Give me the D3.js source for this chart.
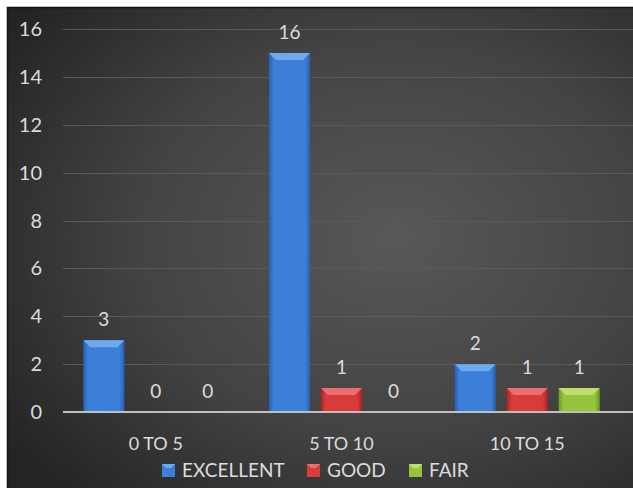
<!DOCTYPE html>
<html>
<head>
<meta charset="utf-8">
<title>Ratings by range</title>
<script src="https://cdn.jsdelivr.net/npm/d3@7"></script>
<style>
body { margin: 0; background: #fff; }
text { font-family: Lato, "Open Sans", sans-serif; fill: #dcdcdc; }
</style>
</head>
<body>
<div id="chart"></div>
<script>
// values
var categories = ["0 TO 5", "5 TO 10", "10 TO 15"];
var series = ["EXCELLENT", "GOOD", "FAIR"];
var excellent = [3, 15, 2];          // bar heights as drawn
var good = [0, 1, 1];
var fair = [0, 0, 1];
var excellentLabels = [3, 16, 2];    // data labels as printed
var yTicks = [0, 2, 4, 6, 8, 10, 12, 14, 16];

var width = 633, height = 488;

var colors = {
  "EXCELLENT": {main: "#3c7fd9", dark: "#2a5fae", top: "#6fa9ee"},
  "GOOD": {main: "#d93b3b", dark: "#a82424", top: "#ec6e6e"},
  "FAIR": {main: "#97c43d", dark: "#6f9a22", top: "#bddf6c"}
};

var rows = categories.map(function(c, i) {
  return {
    cat: c,
    vals: [
      {key: "EXCELLENT", v: excellent[i], label: excellentLabels[i]},
      {key: "GOOD", v: good[i], label: good[i]},
      {key: "FAIR", v: fair[i], label: fair[i]}
    ]
  };
});

var svg = d3.select("#chart").append("svg")
  .attr("width", width)
  .attr("height", height);

var defs = svg.append("defs");

var bg = defs.append("radialGradient").attr("id", "bg")
  .attr("cx", "62%").attr("cy", "48%").attr("r", "75%");
bg.append("stop").attr("offset", "0%").attr("stop-color", "#585858");
bg.append("stop").attr("offset", "55%").attr("stop-color", "#434343");
bg.append("stop").attr("offset", "100%").attr("stop-color", "#242424");

series.forEach(function(s) {
  var g = defs.append("linearGradient").attr("id", "grad-" + s)
    .attr("x1", "0%").attr("x2", "100%").attr("y1", "0%").attr("y2", "0%");
  g.append("stop").attr("offset", "0%").attr("stop-color", colors[s].dark);
  g.append("stop").attr("offset", "12%").attr("stop-color", colors[s].main);
  g.append("stop").attr("offset", "88%").attr("stop-color", colors[s].main);
  g.append("stop").attr("offset", "100%").attr("stop-color", colors[s].dark);
});

// chart area background + border (top and left visible)
svg.append("rect")
  .attr("x", 7).attr("y", 7)
  .attr("width", width - 7).attr("height", height - 7)
  .attr("fill", "url(#bg)");
svg.append("path")
  .attr("d", "M7.5," + height + "V7.5H" + width)
  .attr("fill", "none")
  .attr("stroke", "#111")
  .attr("stroke-width", 1.5);

var y = d3.scaleLinear().domain([0, 16]).range([412, 29]);

var x0 = d3.scaleBand().domain(categories)
  .range([63, 620])
  .paddingInner(0.17)
  .paddingOuter(0.085);

var x1 = d3.scaleBand().domain(series)
  .range([4.5, x0.bandwidth() - 4.5])
  .paddingInner(0.21)
  .paddingOuter(0);

// gridlines
svg.append("g")
  .selectAll("line")
  .data(yTicks.slice(1))
  .enter().append("line")
  .attr("x1", 63).attr("x2", width)
  .attr("y1", function(d) { return Math.round(y(d)) + 0.5; })
  .attr("y2", function(d) { return Math.round(y(d)) + 0.5; })
  .attr("stroke", "#5a5a5a")
  .attr("stroke-width", 1);

// y tick labels
svg.append("g")
  .selectAll("text")
  .data(yTicks)
  .enter().append("text")
  .attr("x", 42)
  .attr("y", function(d) { return y(d) + 7; })
  .attr("text-anchor", "end")
  .style("font-size", "20px")
  .text(function(d) { return d; });

// bars
var groups = svg.append("g")
  .selectAll("g")
  .data(rows)
  .enter().append("g")
  .attr("transform", function(d) { return "translate(" + x0(d.cat) + ",0)"; });

var bars = groups.selectAll("g")
  .data(function(d) { return d.vals; })
  .enter().append("g");

var bev = 7;
bars.filter(function(d) { return d.v > 0; })
  .append("rect")
  .attr("x", function(d) { return x1(d.key); })
  .attr("y", function(d) { return y(d.v); })
  .attr("width", x1.bandwidth())
  .attr("height", function(d) { return y(0) - y(d.v); })
  .attr("fill", function(d) { return "url(#grad-" + d.key + ")"; });

// bevel on top of each bar
bars.filter(function(d) { return d.v > 0; })
  .append("path")
  .attr("d", function(d) {
    var l = x1(d.key), r = l + x1.bandwidth(), t = y(d.v);
    return "M" + l + "," + t + "H" + r + "L" + (r - bev) + "," + (t + bev) +
      "H" + (l + bev) + "Z";
  })
  .attr("fill", function(d) { return colors[d.key].top; });

// data labels
bars.append("text")
  .attr("x", function(d) { return x1(d.key) + x1.bandwidth() / 2; })
  .attr("y", function(d) { return y(d.v) - 14; })
  .attr("text-anchor", "middle")
  .style("font-size", "19px")
  .text(function(d) { return d.label; });

// x axis line
svg.append("line")
  .attr("x1", 63).attr("x2", width)
  .attr("y1", 412).attr("y2", 412)
  .attr("stroke", "#bfbfbf")
  .attr("stroke-width", 2);

// category labels
svg.append("g")
  .selectAll("text")
  .data(categories)
  .enter().append("text")
  .attr("x", function(d) { return x0(d) + x0.bandwidth() / 2; })
  .attr("y", 450)
  .attr("text-anchor", "middle")
  .style("font-size", "18px")
  .text(function(d) { return d; });

// legend
var legendX = [162, 307, 409];
var legend = svg.append("g")
  .selectAll("g")
  .data(series)
  .enter().append("g")
  .attr("transform", function(d, i) { return "translate(" + legendX[i] + ",464)"; });

legend.append("rect")
  .attr("width", 13).attr("height", 13)
  .attr("fill", function(d) { return colors[d].main; });
legend.append("path")
  .attr("d", "M0,0H13L9,4H4Z")
  .attr("fill", function(d) { return colors[d].top; });
legend.append("text")
  .attr("x", 20)
  .attr("y", 13)
  .style("font-size", "19px")
  .text(function(d) { return d; });
</script>
</body>
</html>
